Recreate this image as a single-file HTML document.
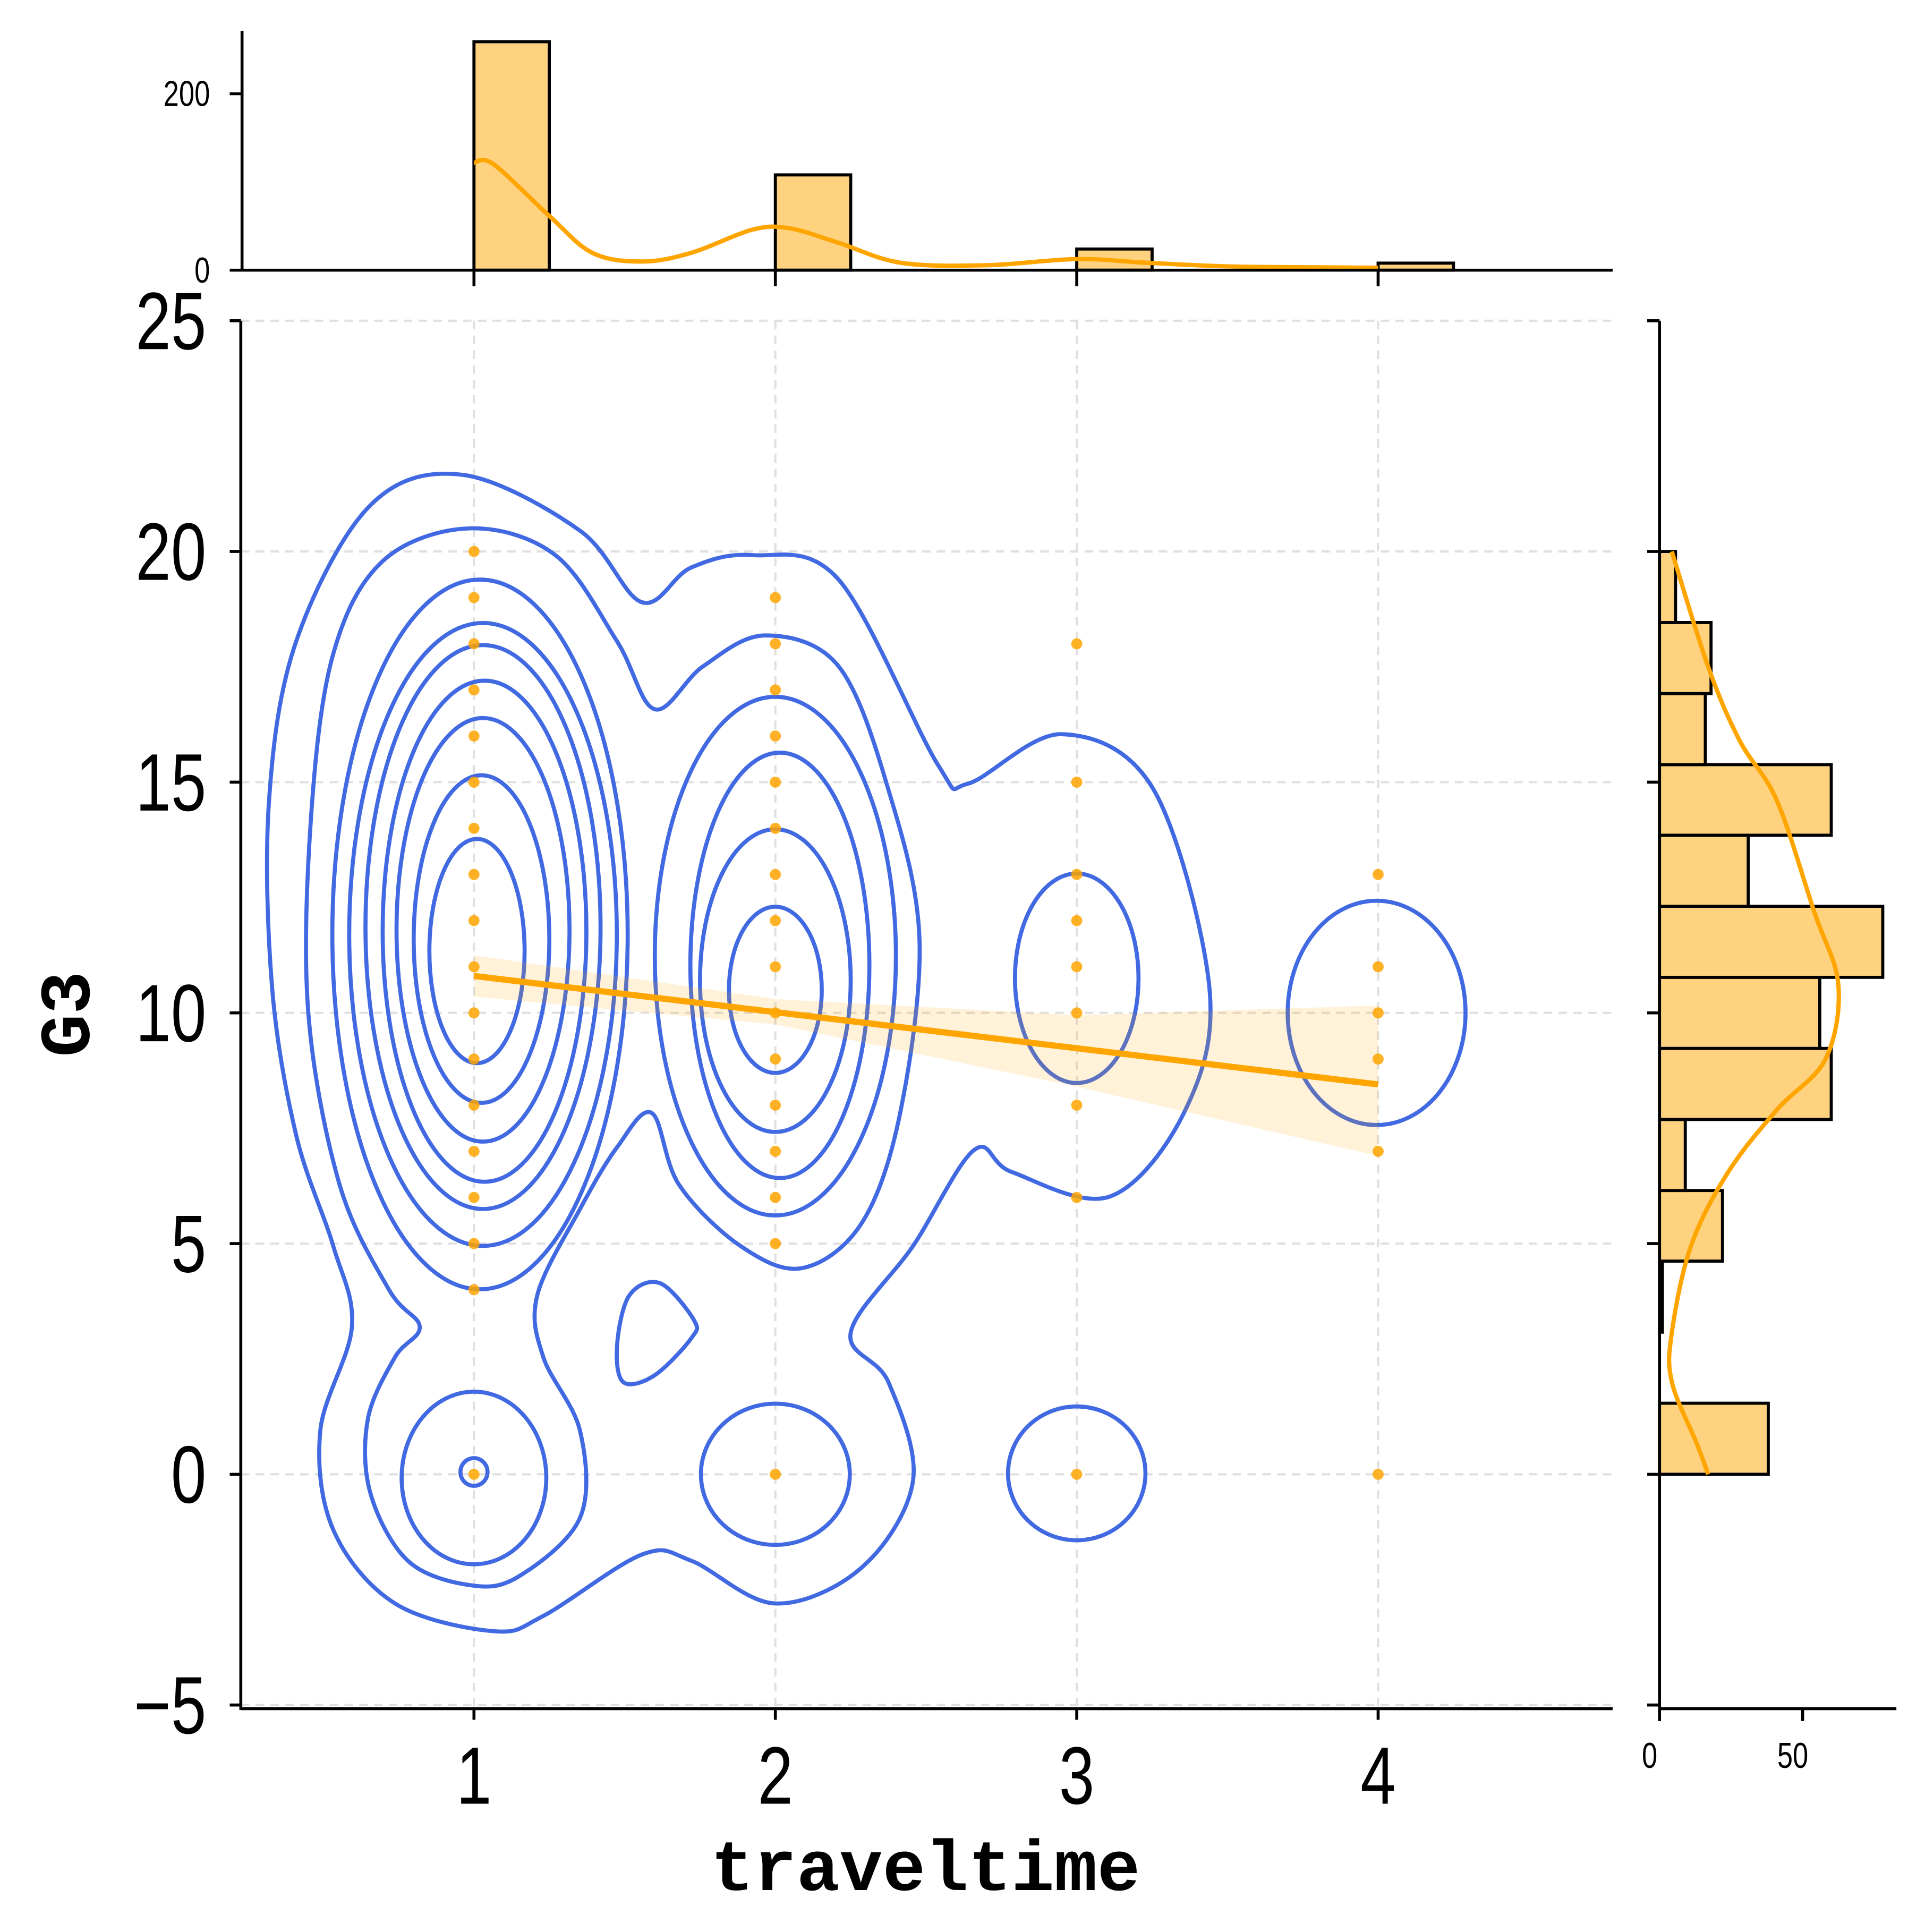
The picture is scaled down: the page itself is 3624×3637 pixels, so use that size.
<!DOCTYPE html>
<html><head><meta charset="utf-8">
<style>html,body{margin:0;padding:0;background:#fff}svg{display:block}text{font-family:"Liberation Sans",sans-serif}</style>
</head><body>
<svg id="chart" width="3624" height="3637" viewBox="0 0 1560 1566" xmlns="http://www.w3.org/2000/svg">
<rect width="1560" height="1566" fill="#fff"/>
<g id="grid"></g>
<g id="kde"></g>
<g id="reg"></g>
<g id="pts"></g>
<g id="topm"></g>
<g id="rightm"></g>
<g id="axes"></g>
</svg>
<script>
const xTicks=[1,2,3,4];
const yTicks=[-5,0,5,10,15,20,25];
const scatterX1=[0,4,5,6,7,8,9,10,11,12,13,14,15,16,17,18,19,20];
const scatterX2=[0,5,6,7,8,9,10,11,12,13,14,15,16,17,18,19];
const scatterX3=[0,6,8,10,11,12,13,15,18];
const scatterX4=[0,7,9,10,11,13];
const regX=[1,4];
const regY=[10.8,8.45];
const ciX=[1,2,3,4];
const ciUpper=[11.25,10.3,9.95,10.16];
const ciLower=[10.35,9.75,8.4,6.9];
const topBinStart=[1,2,3,4];
const topCounts=[259,108,24,8];
const topKdeX=[1.0,1.065,1.25,1.393,1.557,1.72,1.925,2.047,2.21,2.416,2.7,3.0,3.233,3.52,4.0];
const topKdeY=[122,120,61.5,19.6,9.8,19.6,46,47.5,31,8.4,5.6,12.6,8.4,4.2,2.8];
const rightBinEdges=[0,1.54,3.08,4.62,6.15,7.69,9.23,10.77,12.31,13.85,15.38,16.92,18.46,20];
const rightCounts=[38,0,1,22,9,60,56,78,31,60,16,18,5.6];
const rightKdeY=[20,17.5,15.9,14.6,12.2,10.6,9.0,7.9,6.55,4.95,3.07,2.0,0.67,0];
const rightKdeX=[4.3,17,28,41,54,62.5,58,41,24,11,4.3,4.3,13,17];
const outerX=[0.963,1.352,1.557,1.72,1.925,2.21,2.54,2.64,2.95,3.255,3.44,3.36,3.11,2.785,2.66,2.457,2.25,2.375,2.457,2.29,2.0,1.72,1.557,1.23,1.065,0.738,0.533,0.49,0.595,0.533,0.41,0.33,0.32,0.41,0.656];
const outerY=[21.66,20.45,18.9,19.65,19.92,19.39,15.37,14.97,16.04,14.84,10.56,7.89,6.02,6.55,7.03,4.95,3.07,2.0,-0.13,-2.0,-2.8,-1.87,-1.74,-3.07,-3.4,-2.8,-1.2,0.94,3.2,4.95,7.35,10.56,14.6,18.05,21.0];
const level2X=[0.984,1.27,1.475,1.6,1.76,1.966,2.21,2.375,2.478,2.416,2.29,2.09,1.884,1.68,1.59,1.475,1.352,1.21,1.23,1.352,1.352,1.147,0.984,0.78,0.656,0.648,0.738,0.82,0.718,0.554,0.45,0.46,0.533,0.697];
const level2Y=[20.5,19.92,18.05,16.58,17.51,18.18,17.51,14.84,11.63,7.89,5.48,4.47,4.95,6.28,7.83,7.09,5.75,3.88,2.54,0.94,-0.94,-2.22,-2.4,-1.87,-0.4,1.2,2.54,3.2,4.0,6.28,10.03,14.3,17.78,19.79];
const blobX=[1.475,1.516,1.618,1.73,1.72,1.598,1.495];
const blobY=[2.81,3.88,4.14,3.34,2.94,2.14,2.0];
const ellCx=[1.02,1.03,1.03,1.035,1.03,1.025,1.01,2.0,2.015,2.0,2.0,3.0,3.995,1.0,1.0,2.0,3.0];
const ellCy=[11.7,11.7,11.86,11.77,11.8,11.6,11.34,11.23,11.03,10.7,10.5,10.75,10.0,-0.08,0.05,0.0,0.02];
const ellRx=[0.49,0.444,0.39,0.338,0.287,0.225,0.158,0.4,0.297,0.25,0.154,0.205,0.295,0.24,0.045,0.247,0.228];
const ellRy=[7.69,6.75,6.11,5.43,4.59,3.55,2.43,5.62,4.61,3.28,1.8,2.27,2.43,1.87,0.3,1.53,1.45];

const NS='http://www.w3.org/2000/svg';
const X0=195,X1=1307,Y0=1385,Ytop=260;
const sx=v=>384+(v-1)*244.3;
const sy=v=>1195-v*37.4;
const tyC=c=>219-c*0.715;
const rxC=c=>1345+c*2.32;
function mk(parent,tag,attrs){const e=document.createElementNS(NS,tag);for(const k in attrs)e.setAttribute(k,attrs[k]);document.getElementById(parent).appendChild(e);return e;}
function smooth(px,py,closed){
  const n=px.length;let d=`M${px[0]},${py[0]}`;
  const g=i=>closed?[(px[(i+n)%n]),(py[(i+n)%n])]:[px[Math.max(0,Math.min(n-1,i))],py[Math.max(0,Math.min(n-1,i))]];
  const last=closed?n:n-1;
  for(let i=0;i<last;i++){const p0=g(i-1),p1=g(i),p2=g(i+1),p3=g(i+2);
    d+=` C${p1[0]+(p2[0]-p0[0])/6},${p1[1]+(p2[1]-p0[1])/6} ${p2[0]-(p3[0]-p1[0])/6},${p2[1]-(p3[1]-p1[1])/6} ${p2[0]},${p2[1]}`;}
  return d+(closed?'Z':'');
}
xTicks.forEach(t=>{const l=mk('grid','line',{x1:sx(t),x2:sx(t),y1:Ytop,y2:Y0,stroke:'#e0e0e0','stroke-width':1.8,'stroke-dasharray':'7,5'});

});
yTicks.forEach(t=>{const l=mk('grid','line',{x1:X0,x2:X1,y1:sy(t),y2:sy(t),stroke:'#e0e0e0','stroke-width':1.8,'stroke-dasharray':'7,5'});

});
const cstyle={fill:'none',stroke:'#4169e1','stroke-width':3.3};
let p=mk('kde','path',Object.assign({d:smooth(outerX.map(sx),outerY.map(sy),true)},cstyle));


p=mk('kde','path',Object.assign({d:smooth(level2X.map(sx),level2Y.map(sy),true)},cstyle));


p=mk('kde','path',Object.assign({d:smooth(blobX.map(sx),blobY.map(sy),true)},cstyle));


ellCx.forEach((cx,i)=>{
  const e=mk('kde','ellipse',Object.assign({cx:sx(cx),cy:sy(ellCy[i]),rx:ellRx[i]*244.3,ry:ellRy[i]*37.4},cstyle));
  
  
});
const ciPts=ciX.map((x,i)=>`${sx(x)},${sy(ciUpper[i])}`).concat(ciX.slice().reverse().map((x,j)=>`${sx(x)},${sy(ciLower[ciX.length-1-j])}`));
const band=mk('reg','polygon',{points:ciPts.join(' '),fill:'#ffa500','fill-opacity':0.15});


const rl=mk('reg','line',{x1:sx(regX[0]),y1:sy(regY[0]),x2:sx(regX[1]),y2:sy(regY[1]),stroke:'#ffa500','stroke-width':5});


[[1,scatterX1],[2,scatterX2],[3,scatterX3],[4,scatterX4]].forEach(([x,arr])=>arr.forEach(v=>{
  const c=mk('pts','circle',{cx:sx(x),cy:sy(v),r:4.5,fill:'#ffa500','fill-opacity':0.85});
  
  
}));
topBinStart.forEach((b,i)=>{
  const r=mk('topm','rect',{x:sx(b),y:tyC(topCounts[i]),width:sx(b+0.25)-sx(b),height:219-tyC(topCounts[i]),fill:'#ffd280',stroke:'#000','stroke-width':2.5});
  
  
});
p=mk('topm','path',{d:smooth(topKdeX.map(sx),topKdeY.map(tyC),false),fill:'none',stroke:'#ffa500','stroke-width':3.5});


rightCounts.forEach((c,i)=>{
  if(c<=0)return;
  const y1=sy(rightBinEdges[i+1]),y0=sy(rightBinEdges[i]);
  const r=mk('rightm','rect',{x:1345,y:y1,width:rxC(c)-1345,height:y0-y1,fill:'#ffd280',stroke:'#000','stroke-width':2.5});
  
  
});
p=mk('rightm','path',{d:smooth(rightKdeX.map(rxC),rightKdeY.map(sy),false),fill:'none',stroke:'#ffa500','stroke-width':3.5});


const ax=(x1,y1,x2,y2,name)=>{const l=mk('axes','line',{x1,y1,x2,y2,stroke:'#000','stroke-width':2.4});

};
ax(X0,Ytop,X0,Y0+1,'y-axis-spine');ax(X0,Y0,X1,Y0,'x-axis-spine');
ax(196,25,196,220,'top-y-spine');ax(196,219,1307,219,'top-x-spine');
ax(1345,260,1345,1385,'right-y-spine');ax(1345,1385,1537,1385,'right-x-spine');
const txt=(x,y,s,size,anchor,name,sxf)=>{const t=mk('axes','text',{x:0,y:0,'font-size':size,'text-anchor':anchor,fill:'#000',transform:`translate(${x},${y}) scale(${sxf||0.78},1)`});t.textContent=s;

return t;};
xTicks.forEach(t=>{ax(sx(t),Y0,sx(t),Y0+9,'x-tick');txt(sx(t),1462,String(t),66,'middle','x-tick-label');
  ax(sx(t),219,sx(t),232,'top-x-tick');});
yTicks.forEach(t=>{ax(X0-9,sy(t),X0,sy(t),'y-tick');txt(X0-28,sy(t)+23,t<0?'\u2212'+(-t):String(t),66,'end','y-tick-label');
  ax(1335,sy(t),1345,sy(t),'right-y-tick');});
[[0,219],[200,76]].forEach(([v,y])=>{ax(186,y,196,y,'top-y-tick');txt(170,y+10,String(v),29,'end','top-y-tick-label');});
[0,50].forEach(v=>{ax(rxC(v),1385,rxC(v),1395,'right-x-tick');txt(rxC(v)-8,1433,String(v),29,'middle','right-x-tick-label');});
const xt=txt(750,1532,'traveltime',58,'middle','x-axis-title',1);xt.setAttribute('style','font-family:"Liberation Mono",monospace;font-weight:bold');
const yt=mk('axes','text',{x:0,y:0,'font-size':58,'text-anchor':'middle',fill:'#000',transform:'translate(72,822) rotate(-90)',style:'font-family:"Liberation Mono",monospace;font-weight:bold'});yt.textContent='G3';


</script>
</body></html>
